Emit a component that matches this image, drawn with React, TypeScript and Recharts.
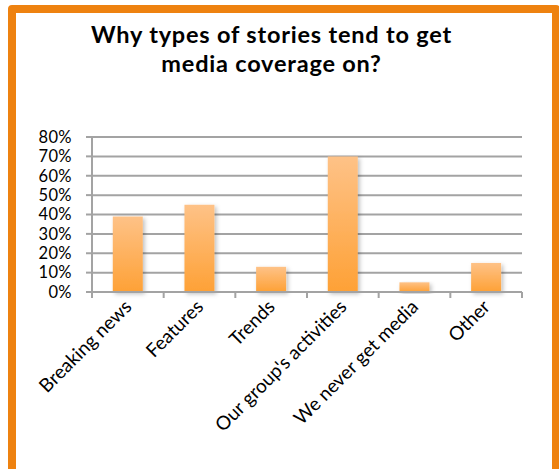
import React from "react";
import { BarChart, Bar, XAxis, YAxis, CartesianGrid } from "recharts";

const categories = [
  "Breaking news",
  "Features",
  "Trends",
  "Our group's activities",
  "We never get media",
  "Other",
];
const percentages = [39, 45, 13, 70, 5, 15];
const yTicks = [0, 10, 20, 30, 40, 50, 60, 70, 80];
const titleLines = ["Why types of stories tend to get", "media coverage on?"];

const data = categories.map((name, i) => ({ name, value: percentages[i] }));

const W = 559;
const H = 469;
const X_H = 177;
const M = { top: 137, right: 37, bottom: 0, left: 0 };
const Y_W = 92;
const PLOT_W = W - M.left - M.right - Y_W;
const BAND = PLOT_W / categories.length;
const FONT = "Lato, 'Open Sans', sans-serif";
const GRID = "#a3a3a3";

const XTick = (props: any) => {
  const { x, y, payload, index } = props;
  const half = BAND / 2;
  return (
    <g>
      <line x1={x - half} x2={x - half} y1={y} y2={y + 6} stroke={GRID} strokeWidth={2} />
      {index === categories.length - 1 && (
        <line x1={x + half} x2={x + half} y1={y} y2={y + 6} stroke={GRID} strokeWidth={2} />
      )}
      <text
        x={0}
        y={0}
        transform={`translate(${x + 5},${y + 16}) rotate(-45)`}
        textAnchor="end"
        fontFamily={FONT}
        fontSize={19}
        fill="#000"
      >
        {payload.value}
      </text>
    </g>
  );
};

export default function App() {
  return (
    <div style={{ position: "absolute", left: 0, top: 0, width: W, height: H, background: "#fff", overflow: "hidden" }}>
      <div
        style={{
          position: "absolute",
          left: 8,
          top: 5,
          width: 560 - 8,
          height: 480,
          boxSizing: "border-box",
          border: "8px solid #ee8210",
          borderRadius: 4,
        }}
      />
      {titleLines.map((t, i) => (
        <div
          key={i}
          style={{
            position: "absolute",
            left: 0,
            width: 543,
            top: 19 + i * 29,
            textAlign: "center",
            fontFamily: FONT,
            fontWeight: 700,
            fontSize: 23.5,
            letterSpacing: 0.8,
            lineHeight: "30px",
            color: "#000",
          }}
        >
          {t}
        </div>
      ))}
      <div style={{ position: "absolute", left: 0, top: 0 }}>
        <BarChart width={W} height={H} data={data} margin={M} barCategoryGap="29%">
          <defs>
            <linearGradient id="barGrad" x1="0" y1="0" x2="0" y2="1">
              <stop offset="0%" stopColor="#fec287" />
              <stop offset="100%" stopColor="#fea136" />
            </linearGradient>
            <filter id="barShadow" x="-30%" y="-10%" width="160%" height="130%">
              <feDropShadow dx="2" dy="2" stdDeviation="2" floodColor="#000" floodOpacity="0.25" />
            </filter>
          </defs>
          <CartesianGrid vertical={false} stroke={GRID} strokeWidth={2} />
          <XAxis
            dataKey="name"
            interval={0}
            axisLine={{ stroke: GRID, strokeWidth: 2 }}
            tickLine={false}
            tickSize={0}
            tickMargin={0}
            tick={<XTick />}
            height={X_H}
          />
          <YAxis
            width={Y_W}
            domain={[0, 80]}
            ticks={yTicks}
            interval={0}
            tickFormatter={(v: number) => `${v}%`}
            axisLine={{ stroke: GRID, strokeWidth: 2 }}
            tickLine={{ stroke: GRID, strokeWidth: 2 }}
            tickSize={6}
            tickMargin={14}
            tick={{ fill: "#000", fontFamily: FONT, fontSize: 16.5, letterSpacing: 0.4 }}
          />
          <Bar dataKey="value" fill="url(#barGrad)" filter="url(#barShadow)" isAnimationActive={false} />
        </BarChart>
      </div>
    </div>
  );
}
